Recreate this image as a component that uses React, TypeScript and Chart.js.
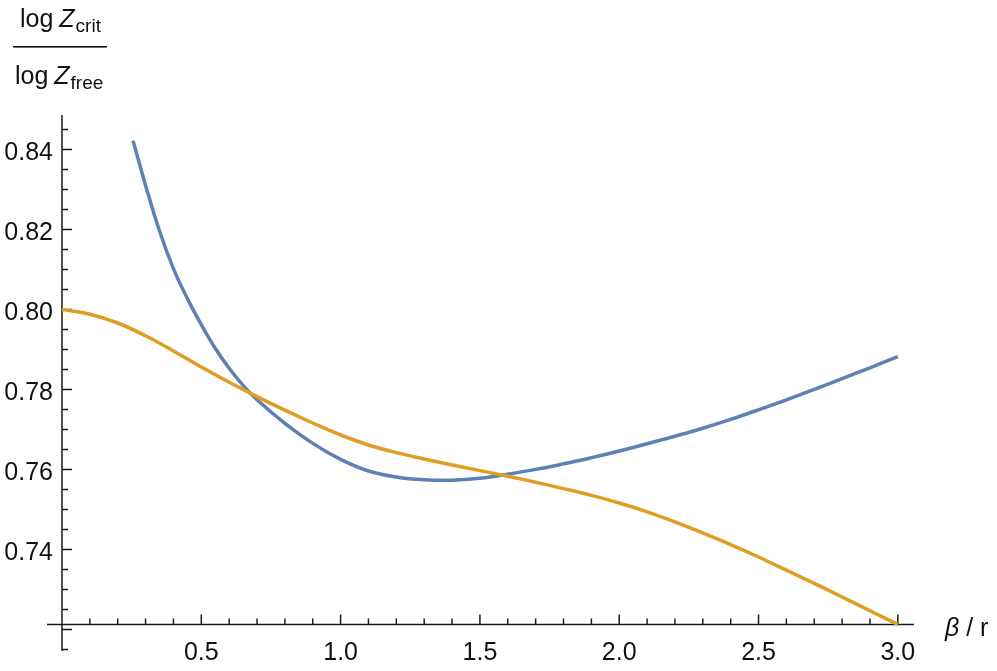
import React, { useEffect, useRef } from "react";
import { Chart, registerables } from "chart.js";

Chart.register(...registerables);

// ---- data ----
const orangeX = [0, 0.1, 0.2, 0.3, 0.4, 0.5, 0.6, 0.7, 0.8, 0.9, 1.0, 1.1, 1.2, 1.3, 1.4, 1.5, 1.6, 1.7, 1.8, 1.9, 2.0, 2.1, 2.2, 2.3, 2.4, 2.5, 2.6, 2.7, 2.8, 2.9, 3.0];
const orangeY = [0.8, 0.7988, 0.7966, 0.7934, 0.7896, 0.7856, 0.7818, 0.7782, 0.7748, 0.7716, 0.7686, 0.7661, 0.7642, 0.7626, 0.7611, 0.7597, 0.7583, 0.7568, 0.7552, 0.7535, 0.7516, 0.7494, 0.7469, 0.7441, 0.7412, 0.7381, 0.7348, 0.7315, 0.7281, 0.72465, 0.72125];

const blueX = [0.255, 0.3, 0.35, 0.4, 0.45, 0.5, 0.55, 0.6, 0.65, 0.7, 0.8, 0.9, 1.0, 1.1, 1.2, 1.3, 1.4, 1.5, 1.6, 1.7, 1.8, 1.9, 2.0, 2.1, 2.2, 2.3, 2.4, 2.5, 2.6, 2.7, 2.8, 2.9, 3.0];
const blueY = [0.8422, 0.831, 0.8196, 0.8102, 0.8027, 0.7962, 0.7903, 0.7853, 0.781, 0.7774, 0.7715, 0.7665, 0.7625, 0.7596, 0.7581, 0.7574, 0.7573, 0.7578, 0.7588, 0.76, 0.7614, 0.7629, 0.7646, 0.7664, 0.7683, 0.7703, 0.7725, 0.7749, 0.7774, 0.78, 0.7827, 0.7854, 0.7882];

const xMajorTicks = [0.5, 1.0, 1.5, 2.0, 2.5, 3.0];
const xMajorLabels = ["0.5", "1.0", "1.5", "2.0", "2.5", "3.0"];
const xMinorTicks = [0.1, 0.2, 0.3, 0.4, 0.6, 0.7, 0.8, 0.9, 1.1, 1.2, 1.3, 1.4, 1.6, 1.7, 1.8, 1.9, 2.1, 2.2, 2.3, 2.4, 2.6, 2.7, 2.8, 2.9];
const yMajorTicks = [0.72, 0.74, 0.76, 0.78, 0.8, 0.82, 0.84];
const yMajorLabels = ["", "0.74", "0.76", "0.78", "0.80", "0.82", "0.84"];
const yMinorTicks = [0.715, 0.725, 0.73, 0.735, 0.745, 0.75, 0.755, 0.765, 0.77, 0.775, 0.785, 0.79, 0.795, 0.805, 0.81, 0.815, 0.825, 0.83, 0.835, 0.845];

const X_AXIS_AT = 0.72125;
const Y_AXIS_AT = 0;

const FONT = '"Liberation Sans", Arial, Helvetica, sans-serif';
const AXIS_COLOR = "#1a1a1a";
const TEXT_COLOR = "#111111";

const axesPlugin = {
  id: "mmaAxes",
  beforeDatasetsDraw(chart: any) {
    const { ctx } = chart;
    const xs = chart.scales.x;
    const ys = chart.scales.y;
    const x0 = xs.getPixelForValue(Y_AXIS_AT);
    const yA = ys.getPixelForValue(X_AXIS_AT);
    ctx.save();
    ctx.strokeStyle = AXIS_COLOR;
    ctx.lineWidth = 1.5;
    ctx.beginPath();
    ctx.moveTo(xs.left, yA);
    ctx.lineTo(xs.right, yA);
    ctx.moveTo(x0, ys.top);
    ctx.lineTo(x0, ys.bottom);
    // x ticks (upward)
    xMajorTicks.forEach((v) => {
      const p = xs.getPixelForValue(v);
      ctx.moveTo(p, yA);
      ctx.lineTo(p, yA - 10);
    });
    xMinorTicks.forEach((v) => {
      const p = xs.getPixelForValue(v);
      ctx.moveTo(p, yA);
      ctx.lineTo(p, yA - 6);
    });
    // y ticks (rightward)
    yMajorTicks.forEach((v) => {
      const p = ys.getPixelForValue(v);
      ctx.moveTo(x0, p);
      ctx.lineTo(x0 + 10, p);
    });
    yMinorTicks.forEach((v) => {
      const p = ys.getPixelForValue(v);
      ctx.moveTo(x0, p);
      ctx.lineTo(x0 + 6, p);
    });
    ctx.stroke();

    // tick labels
    ctx.fillStyle = TEXT_COLOR;
    ctx.font = `25px ${FONT}`;
    ctx.textBaseline = "alphabetic";
    ctx.textAlign = "center";
    xMajorTicks.forEach((v, i) => {
      ctx.fillText(xMajorLabels[i], xs.getPixelForValue(v), yA + 36);
    });
    ctx.textAlign = "right";
    yMajorTicks.forEach((v, i) => {
      if (!yMajorLabels[i]) return;
      ctx.fillText(yMajorLabels[i], x0 - 9, ys.getPixelForValue(v) + 10.7);
    });

    // x axis label: β / r
    ctx.textAlign = "left";
    const lx = xs.right + 31;
    const lb = yA + 12;
    ctx.font = `italic 25px ${FONT}`;
    ctx.fillText("β", lx, lb);
    const wb = ctx.measureText("β").width;
    ctx.font = `25px ${FONT}`;
    ctx.fillText(" / r", lx + wb, lb);

    // y axis label: log Z_crit / log Z_free
    const drawPart = (x: number, base: number, sub: string) => {
      ctx.font = `25px ${FONT}`;
      ctx.fillText("log ", x, base);
      const w1 = ctx.measureText("log ").width;
      ctx.font = `italic 25px ${FONT}`;
      ctx.fillText("Z", x + w1 - 1, base);
      const w2 = ctx.measureText("Z").width;
      ctx.font = `19px ${FONT}`;
      ctx.fillText(sub, x + w1 + w2, base + 5);
    };
    drawPart(20, 27, "crit");
    ctx.fillRect(13, 46, 94, 1.6);
    drawPart(15, 84, "free");
    ctx.restore();
  },
};

export default function App() {
  const ref = useRef<HTMLCanvasElement | null>(null);
  useEffect(() => {
    if (!ref.current) return;
    const chart = new Chart(ref.current, {
      type: "scatter",
      data: {
        datasets: [
          {
            label: "free",
            data: orangeX.map((x, i) => ({ x, y: orangeY[i] })),
            borderColor: "#E19C24",
            borderWidth: 3.5,
            showLine: true,
            pointRadius: 0,
            tension: 0.4,
          },
          {
            label: "crit",
            data: blueX.map((x, i) => ({ x, y: blueY[i] })),
            borderColor: "#5E81B5",
            borderWidth: 3.5,
            showLine: true,
            pointRadius: 0,
            tension: 0.4,
          },
        ],
      },
      options: {
        animation: false,
        responsive: false,
        devicePixelRatio: 1,
        layout: { padding: { left: 47, right: 83, top: 115, bottom: 20 } },
        plugins: { legend: { display: false }, tooltip: { enabled: false } },
        scales: {
          x: { type: "linear", min: -0.0538, max: 3.058, display: false },
          y: { type: "linear", min: 0.7146, max: 0.8486, display: false },
        },
      },
      plugins: [axesPlugin],
    } as any);
    return () => chart.destroy();
  }, []);
  return (
    <div style={{ position: "fixed", left: 0, top: 0, width: 997, height: 671, background: "#fff" }}>
      <canvas ref={ref} width={997} height={671} style={{ width: 997, height: 671, display: "block" }} />
    </div>
  );
}
